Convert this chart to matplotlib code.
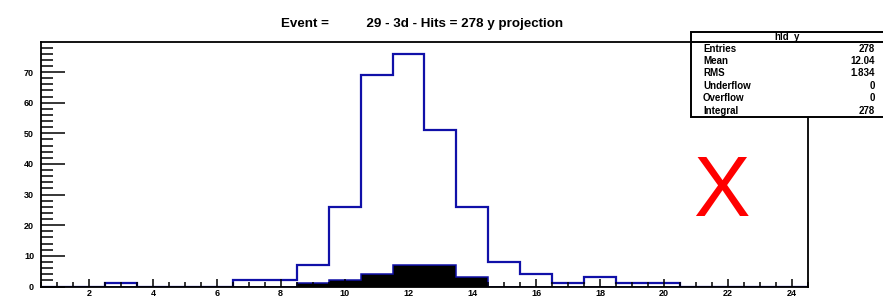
import matplotlib
matplotlib.use("Agg")
import matplotlib.pyplot as plt
import numpy as np
from matplotlib.patches import Rectangle
from matplotlib.ticker import MultipleLocator

plt.rcParams['font.family'] = ['Liberation Sans', 'DejaVu Sans']

# --- data: y projection, one bin per unit from 0.5 to 24.5 ---
bin_edges = np.arange(0.5, 25.0, 1.0)
all_hits = [0, 0, 1, 0, 0, 0, 2, 2, 7, 26, 69, 76, 51, 26, 8, 4, 1, 3, 1, 1, 0, 0, 0, 0]
sel_hits = [0, 0, 0, 0, 0, 0, 0, 0, 1, 2, 4, 7, 7, 3, 0, 0, 0, 0, 0, 0, 0, 0, 0, 0]

title = "Event =          29 - 3d - Hits = 278 y projection"
stat_name = "hld_y"
stat_labels = ["Entries", "Mean", "RMS", "Underflow", "Overflow", "Integral"]
stat_values = ["278", "12.04", "1.834", "0", "0", "278"]

W, H = 883, 299
fig = plt.figure(figsize=(W / 100, H / 100), dpi=100)
ax = fig.add_axes([41 / W, 1 - 286.5 / H, (808 - 41) / W, (286.5 - 42) / H])

blue = "#1010a8"
ax.stairs(sel_hits, bin_edges, fill=True, facecolor="black", edgecolor="black", lw=0)
ax.stairs(sel_hits, bin_edges, color=blue, lw=1.1)
ax.stairs(all_hits, bin_edges, color=blue, lw=1.6, baseline=0)

ax.set_xlim(0.5, 24.5)
ax.set_ylim(0, 79.8)

ax.xaxis.set_major_locator(MultipleLocator(2))
ax.xaxis.set_minor_locator(MultipleLocator(0.5))
ax.yaxis.set_major_locator(MultipleLocator(10))
ax.yaxis.set_minor_locator(MultipleLocator(2))
ax.tick_params(axis="x", which="major", direction="in", length=5.5, width=1.1, pad=1.5,
               labelsize=6.5)
ax.tick_params(axis="x", which="minor", direction="in", length=3.5, width=1.1)
ax.tick_params(axis="y", which="major", direction="in", length=17, width=1.1, pad=5,
               labelsize=6.5)
ax.tick_params(axis="y", which="minor", direction="in", length=8.5, width=1.1)
for lab in ax.get_xticklabels() + ax.get_yticklabels():
    lab.set_fontweight("bold")
for sp in ax.spines.values():
    sp.set_linewidth(1.3)

# title
fig.text(422 / W, 1 - 27.5 / H, title, ha="center", va="baseline",
         fontsize=9.6, fontweight="bold")

# red X marker
fig.text(721 / W, 1 - 216 / H, "X", ha="center", va="baseline",
         fontsize=61, color="red")

# stats box
box_l, box_t, box_b = 691, 31.5, 117
fig.add_artist(Rectangle((box_l / W, 1 - box_b / H), (W + 5 - box_l) / W, (box_b - box_t) / H,
                         transform=fig.transFigure, facecolor="white", edgecolor="black",
                         lw=1.4, zorder=5))
fig.add_artist(plt.Line2D([box_l / W, 1.0], [1 - 42 / H, 1 - 42 / H],
                          transform=fig.transFigure, color="black", lw=1.4, zorder=6))
fig.text(787 / W, 1 - 37 / H, stat_name, ha="center", va="center",
         fontsize=7, fontweight="bold", zorder=7)
for i, (lab, val) in enumerate(zip(stat_labels, stat_values)):
    y = 1 - (48.5 + i * 12.4) / H
    fig.text(703 / W, y, lab, ha="left", va="center", fontsize=7, fontweight="bold", zorder=7)
    fig.text(875 / W, y, val, ha="right", va="center", fontsize=7, fontweight="bold", zorder=7)

fig.savefig("out.png", dpi=100)
